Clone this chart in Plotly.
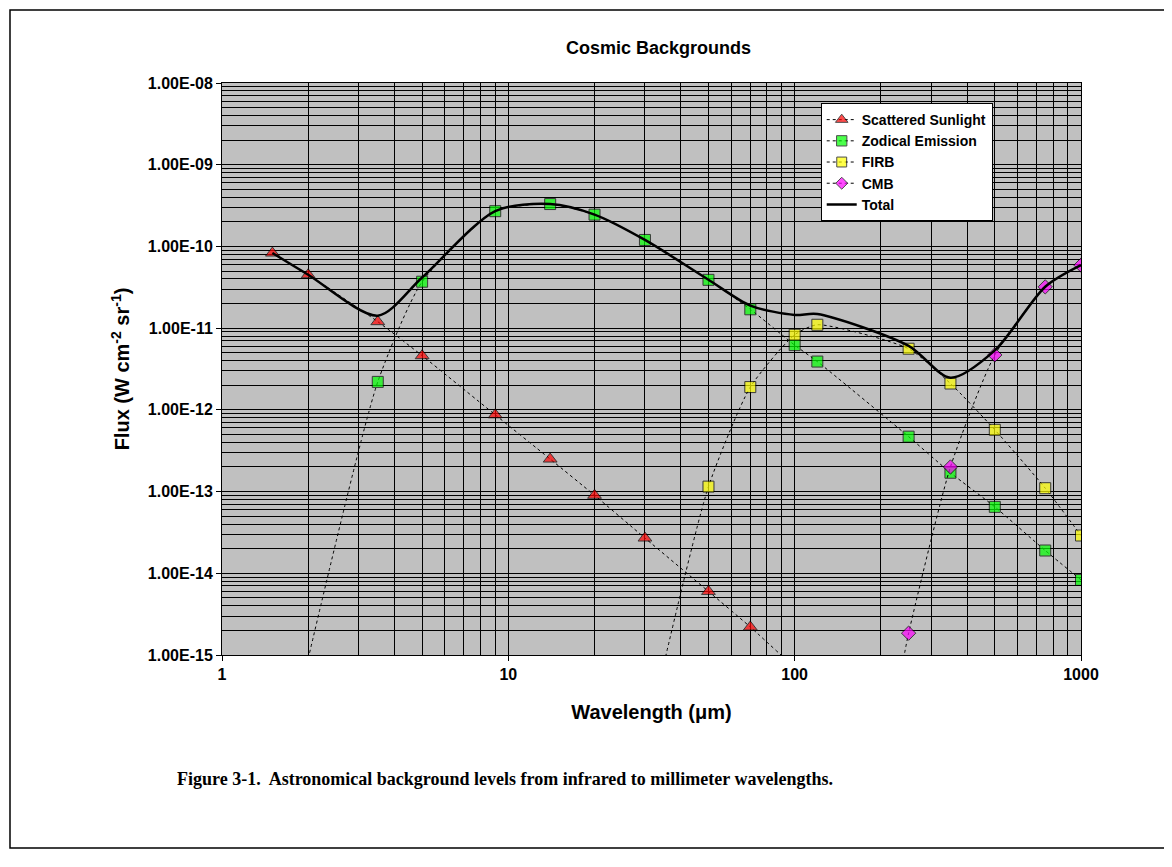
import plotly.graph_objects as go

# wavelengths (um) and fluxes (W cm^-2 sr^-1)
sun_wl = [1.5, 2, 3.5, 5, 9, 14, 20, 30, 50, 70, 100]
sun_flux = [8.3e-11, 4.5e-11, 1.2e-11, 4.6e-12, 8.7e-13, 2.5e-13, 9e-14, 2.7e-14, 6e-15, 2.2e-15, 7e-16]

zodi_wl = [2, 3.5, 5, 9, 14, 20, 30, 50, 70, 100, 120, 250, 350, 500, 750, 1000]
zodi_flux = [9e-16, 2.2e-12, 3.7e-11, 2.7e-10, 3.3e-10, 2.45e-10, 1.2e-10, 3.9e-11, 1.7e-11,
             6.2e-12, 3.9e-12, 4.7e-13, 1.7e-13, 6.5e-14, 1.9e-14, 8.3e-15]

firb_wl = [35, 50, 70, 100, 120, 250, 350, 500, 750, 1000]
firb_flux = [8e-16, 1.15e-13, 1.9e-12, 8.3e-12, 1.1e-11, 5.6e-12, 2.1e-12, 5.7e-13, 1.1e-13, 2.9e-14]

cmb_wl = [240, 250, 350, 500, 750, 1000]
cmb_flux = [9e-16, 1.85e-15, 2.0e-13, 4.7e-12, 3.2e-11, 5.9e-11]

total_wl = [1.5, 2, 3.5, 5, 9, 14, 20, 30, 50, 70, 100, 120, 250, 350, 500, 750, 1000]

y_ticks = [1e-8, 1e-9, 1e-10, 1e-11, 1e-12, 1e-13, 1e-14, 1e-15]
y_labels = ["1.00E-08", "1.00E-09", "1.00E-10", "1.00E-11", "1.00E-12", "1.00E-13", "1.00E-14", "1.00E-15"]
x_ticks = [1, 10, 100, 1000]

# total = sum of the components given at each wavelength
comps = [dict(zip(sun_wl, sun_flux)), dict(zip(zodi_wl, zodi_flux)),
         dict(zip(firb_wl, firb_flux)), dict(zip(cmb_wl, cmb_flux))]
total_flux = [sum(c.get(w, 0) for c in comps) for w in total_wl]

fig = go.Figure()
series = [
    ("Scattered Sunlight", sun_wl, sun_flux, "triangle-up", "#ff0000", 12),
    ("Zodical Emission", zodi_wl, zodi_flux, "square", "#00ff00", 11),
    ("FIRB", firb_wl, firb_flux, "square", "#ffff00", 11),
    ("CMB", cmb_wl, cmb_flux, "diamond", "#ff00ff", 11),
]
for name, x, y, sym, col, sz in series:
    # points below the axis only steer the dotted line; no marker there
    sizes = [sz if v >= 1e-15 else 0 for v in y]
    fig.add_trace(go.Scatter(
        x=x, y=y, name="<b>%s</b>" % name, mode="lines+markers",
        line=dict(color="black", width=1, dash="dot", shape="spline", smoothing=0.6),
        marker=dict(symbol=sym, color=col, size=sizes, line=dict(color="black", width=1)),
    ))
fig.add_trace(go.Scatter(
    x=total_wl, y=total_flux, name="<b>Total</b>", mode="lines",
    line=dict(color="black", width=2.5, shape="spline", smoothing=0.8),
))

font = "Liberation Sans, Arial"
axis_font = dict(family=font, size=16, color="black")
common = dict(type="log", tickfont=axis_font, ticks="outside", ticklen=5, tickcolor="black",
              showline=True, linecolor="black", mirror=True,
              showgrid=True, gridcolor="black", gridwidth=1,
              minor=dict(dtick="D1", showgrid=True, gridcolor="black", gridwidth=1))
fig.update_xaxes(range=[0, 3], tickvals=x_ticks, ticktext=["<b>%d</b>" % v for v in x_ticks],
                 title=dict(text="<b>Wavelength (μm)</b>", font=dict(family=font, size=20, color="black"),
                            standoff=22),
                 **common)
fig.update_yaxes(range=[-15, -8], tickvals=y_ticks, ticktext=["<b>%s</b>" % t for t in y_labels],
                 title=dict(text="<b>Flux (W cm<sup>-2</sup> sr<sup>-1</sup>)</b>",
                            font=dict(family=font, size=20, color="black"), standoff=12),
                 **common)

fig.update_layout(
    width=1172, height=867,
    margin=dict(l=214, r=99, t=75, b=220),
    paper_bgcolor="white", plot_bgcolor="#c0c0c0",
    title=dict(text="<b>Cosmic Backgrounds</b>", x=0.555, xanchor="center", y=0.962,
               font=dict(family=font, size=18, color="black")),
    legend=dict(x=0.697, y=0.965, xanchor="left", yanchor="top", bgcolor="white",
                bordercolor="black", borderwidth=1, tracegroupgap=6,
                font=dict(family=font, size=14, color="black")),
    showlegend=True,
)
fig.add_shape(type="rect", xref="paper", yref="paper", x0=-0.2468, x1=1.0978, y0=-0.3374, y1=1.1276,
              line=dict(color="black", width=1.5))
fig.add_annotation(text="<b>Figure 3-1.  Astronomical background levels from infrared to millimeter wavelengths.</b>",
                   xref="paper", yref="paper", x=0.33, y=-0.216, xanchor="center", yanchor="middle",
                   showarrow=False, font=dict(family="Liberation Serif, Times New Roman", size=18, color="black"))

fig.write_html("out.html")
